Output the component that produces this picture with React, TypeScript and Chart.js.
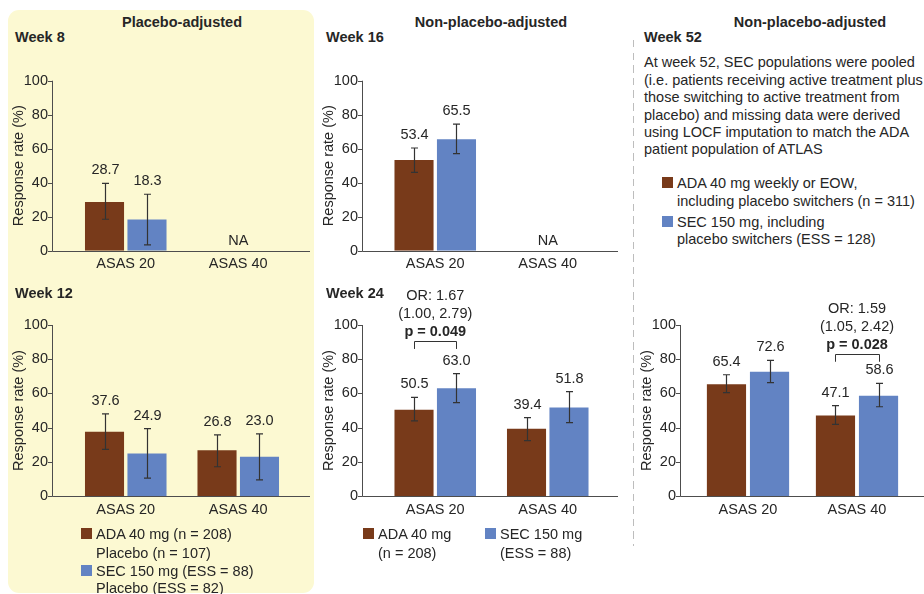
import React, { useEffect, useRef } from 'react';
import { Chart, registerables } from 'chart.js';

Chart.register(...registerables);

// ---------------- data ----------------
const categories = ['ASAS 20', 'ASAS 40'];
const yTicksMax = 100;
const yTickStep = 20;
const naLabel = 'NA';

const week8Ada = [28.7, null];
const week8Sec = [18.3, null];
const week8AdaLow = [18.5, null];
const week8AdaHigh = [39.6, null];
const week8SecLow = [3.4, null];
const week8SecHigh = [33.2, null];

const week12Ada = [37.6, 26.8];
const week12Sec = [24.9, 23.0];
const week12AdaLow = [27.3, 17.1];
const week12AdaHigh = [48.0, 35.7];
const week12SecLow = [10.4, 9.4];
const week12SecHigh = [39.4, 36.3];

const week16Ada = [53.4, null];
const week16Sec = [65.5, null];
const week16AdaLow = [46.1, null];
const week16AdaHigh = [60.4, null];
const week16SecLow = [57.1, null];
const week16SecHigh = [74.5, null];

const week24Ada = [50.5, 39.4];
const week24Sec = [63.0, 51.8];
const week24AdaLow = [43.9, 32.4];
const week24AdaHigh = [57.7, 45.8];
const week24SecLow = [54.6, 42.9];
const week24SecHigh = [71.6, 61.0];

const week52Ada = [65.4, 47.1];
const week52Sec = [72.6, 58.6];
const week52AdaLow = [60.4, 41.9];
const week52AdaHigh = [70.9, 52.8];
const week52SecLow = [66.3, 52.2];
const week52SecHigh = [79.3, 65.9];

const week24SigLines = ['OR: 1.67', '(1.00, 2.79)'];
const week24SigP = 'p = 0.049';
const week52SigLines = ['OR: 1.59', '(1.05, 2.42)'];
const week52SigP = 'p = 0.028';

const placeboLegend = ['ADA 40 mg (n = 208)', 'Placebo (n = 107)', 'SEC 150 mg (ESS = 88)', 'Placebo (ESS = 82)'];
const week24LegendAda = ['ADA 40 mg', '(n = 208)'];
const week24LegendSec = ['SEC 150 mg', '(ESS = 88)'];
const week52LegendAda = ['ADA 40 mg weekly or EOW,', 'including placebo switchers (n = 311)'];
const week52LegendSec = ['SEC 150 mg, including', 'placebo switchers (ESS = 128)'];
const week52Note = [
  'At week 52, SEC populations were pooled',
  '(i.e. patients receiving active treatment plus',
  'those switching to active treatment from',
  'placebo) and missing data were derived',
  'using LOCF imputation to match the ADA',
  'patient population of ATLAS',
];

// ---------------- style ----------------
const FONT = '"Liberation Sans", Arial, Helvetica, sans-serif';
const TEXT = '#262626';
const ADA_COLOR = '#783a1a';
const SEC_COLOR = '#6283c3';
const AXIS_COLOR = '#4d4d4d';

type Sig = { index: number; bracket: number; leg: number; lines: string[]; p: string };
type Cfg = {
  ada: (number | null)[];
  sec: (number | null)[];
  adaLow: (number | null)[];
  adaHigh: (number | null)[];
  secLow: (number | null)[];
  secHigh: (number | null)[];
  sig?: Sig;
  box: { left: number; top: number; width: number; height: number };
  area: { left: number; right: number; top: number; bottom: number };
  axisX: number;
  axisEnd: number;
  catPct: number;
  barPct: number;
};

function BarPanel({ cfg }: { cfg: Cfg }) {
  const ref = useRef<HTMLCanvasElement>(null);
  useEffect(() => {
    const { box, area } = cfg;
    const yWidth = area.left - box.left;
    const xHeight = box.top + box.height - area.bottom;
    const decor = {
      id: 'decor',
      afterDatasetsDraw(chart: any) {
        const ctx = chart.ctx;
        const y = chart.scales.y;
        const x = chart.scales.x;
        const ax = cfg.axisX - box.left;
        const ae = cfg.axisEnd - box.left;
        const y0 = Math.round(y.getPixelForValue(0)) + 0.5;
        const yTop = y.getPixelForValue(yTicksMax);
        ctx.save();
        // axes
        ctx.strokeStyle = AXIS_COLOR;
        ctx.lineWidth = 1;
        ctx.beginPath();
        ctx.moveTo(ax + 0.5, yTop);
        ctx.lineTo(ax + 0.5, y0);
        ctx.lineTo(ae, y0);
        y.ticks.forEach((t: any) => {
          const py = Math.round(y.getPixelForValue(t.value)) + 0.5;
          ctx.moveTo(ax - 4, py);
          ctx.lineTo(ax + 0.5, py);
        });
        ctx.stroke();
        // error bars + values
        ctx.font = `14.5px ${FONT}`;
        ctx.fillStyle = TEXT;
        ctx.textAlign = 'center';
        ctx.textBaseline = 'middle';
        const series = [
          [cfg.adaLow, cfg.adaHigh, cfg.ada],
          [cfg.secLow, cfg.secHigh, cfg.sec],
        ];
        series.forEach(([lo, hi, val], di) => {
          const meta = chart.getDatasetMeta(di);
          val.forEach((v, j) => {
            if (v == null || lo[j] == null || hi[j] == null) return;
            const bx = Math.round(meta.data[j].x) + 0.5;
            const pl = y.getPixelForValue(lo[j]);
            const ph = y.getPixelForValue(hi[j]);
            ctx.strokeStyle = '#333333';
            ctx.lineWidth = 1.2;
            ctx.beginPath();
            ctx.moveTo(bx, pl);
            ctx.lineTo(bx, ph);
            ctx.moveTo(bx - 3.5, pl);
            ctx.lineTo(bx + 3.5, pl);
            ctx.moveTo(bx - 3.5, ph);
            ctx.lineTo(bx + 3.5, ph);
            ctx.stroke();
            ctx.fillText(v.toFixed(1), bx, ph - 13);
          });
        });
        // NA
        categories.forEach((_c, j) => {
          if (cfg.ada[j] == null && cfg.sec[j] == null) {
            ctx.fillText(naLabel, x.getPixelForValue(j), y0 - 11);
          }
        });
        // significance bracket
        if (cfg.sig) {
          const s = cfg.sig;
          const x1 = Math.round(chart.getDatasetMeta(0).data[s.index].x) + 0.5;
          const x2 = Math.round(chart.getDatasetMeta(1).data[s.index].x) + 0.5;
          const by = Math.round(y.getPixelForValue(s.bracket)) + 0.5;
          const ly = y.getPixelForValue(s.leg);
          ctx.strokeStyle = '#333333';
          ctx.lineWidth = 1;
          ctx.beginPath();
          ctx.moveTo(x1, ly);
          ctx.lineTo(x1, by);
          ctx.lineTo(x2, by);
          ctx.lineTo(x2, ly);
          ctx.stroke();
          const cx = x.getPixelForValue(s.index);
          ctx.fillText(s.lines[0], cx, by - 46);
          ctx.fillText(s.lines[1], cx, by - 28);
          ctx.font = `bold 14.5px ${FONT}`;
          ctx.fillText(s.p, cx, by - 10);
        }
        ctx.restore();
      },
    };
    const chart = new Chart(ref.current as HTMLCanvasElement, {
      type: 'bar',
      data: {
        labels: categories,
        datasets: [
          {
            label: 'ADA',
            data: cfg.ada as any,
            backgroundColor: ADA_COLOR,
            categoryPercentage: cfg.catPct,
            barPercentage: cfg.barPct,
          },
          {
            label: 'SEC',
            data: cfg.sec as any,
            backgroundColor: SEC_COLOR,
            categoryPercentage: cfg.catPct,
            barPercentage: cfg.barPct,
          },
        ],
      },
      options: {
        responsive: false,
        animation: false,
        devicePixelRatio: 1,
        layout: {
          padding: {
            left: 0,
            right: box.left + box.width - area.right,
            top: area.top - box.top,
            bottom: 0,
          },
        },
        plugins: { legend: { display: false }, tooltip: { enabled: false } },
        scales: {
          x: {
            grid: { display: false, drawTicks: false },
            border: { display: false },
            ticks: { font: { family: FONT, size: 14.5 }, color: TEXT, padding: 5 },
            afterFit(s: any) {
              s.height = xHeight;
              s.paddingLeft = 0;
              s.paddingRight = 0;
            },
          },
          y: {
            min: 0,
            max: yTicksMax,
            grid: { display: false, drawTicks: false },
            border: { display: false },
            ticks: {
              stepSize: yTickStep,
              font: { family: FONT, size: 14.5 },
              color: TEXT,
              padding: area.left - cfg.axisX + 4,
            },
            title: {
              display: true,
              text: 'Response rate (%)',
              font: { family: FONT, size: 14.5 },
              color: TEXT,
              padding: { top: 10, bottom: 0 },
            },
            afterFit(s: any) {
              s.width = yWidth;
              s.paddingTop = 0;
              s.paddingBottom = 0;
            },
          },
        },
      } as any,
      plugins: [decor],
    });
    return () => chart.destroy();
  }, []);
  return (
    <canvas
      ref={ref}
      width={cfg.box.width}
      height={cfg.box.height}
      style={{ position: 'absolute', left: cfg.box.left, top: cfg.box.top }}
    />
  );
}

function Txt({
  x,
  y,
  children,
  bold,
  center,
}: {
  x: number;
  y: number;
  children: React.ReactNode;
  bold?: boolean;
  center?: boolean;
}) {
  return (
    <div
      style={{
        position: 'absolute',
        left: center ? x - 200 : x,
        width: center ? 400 : undefined,
        textAlign: center ? 'center' : 'left',
        top: y - 10,
        lineHeight: '20px',
        height: 20,
        fontSize: 14.5,
        fontWeight: bold ? 700 : 400,
        whiteSpace: 'nowrap',
        color: TEXT,
        fontFamily: FONT,
      }}
    >
      {children}
    </div>
  );
}

function Swatch({ x, y, color }: { x: number; y: number; color: string }) {
  return <div style={{ position: 'absolute', left: x, top: y, width: 11, height: 11, background: color }} />;
}

const topLeft = { left: 69.5, right: 294.5 };
const topMid = { left: 379, right: 604 };

const panels: Cfg[] = [
  {
    ada: week8Ada, sec: week8Sec, adaLow: week8AdaLow, adaHigh: week8AdaHigh, secLow: week8SecLow, secHigh: week8SecHigh,
    box: { left: 0, top: 60, width: 310, height: 220 },
    area: { ...topLeft, top: 80.7, bottom: 250.7 },
    axisX: 52, axisEnd: 310, catPct: 0.755, barPct: 0.92,
  },
  {
    ada: week12Ada, sec: week12Sec, adaLow: week12AdaLow, adaHigh: week12AdaHigh, secLow: week12SecLow, secHigh: week12SecHigh,
    box: { left: 0, top: 300, width: 310, height: 225 },
    area: { ...topLeft, top: 325, bottom: 496 },
    axisX: 52, axisEnd: 310, catPct: 0.755, barPct: 0.92,
  },
  {
    ada: week16Ada, sec: week16Sec, adaLow: week16AdaLow, adaHigh: week16AdaHigh, secLow: week16SecLow, secHigh: week16SecHigh,
    box: { left: 310, top: 60, width: 310, height: 220 },
    area: { ...topMid, top: 80.7, bottom: 250.7 },
    axisX: 362, axisEnd: 618, catPct: 0.755, barPct: 0.92,
  },
  {
    ada: week24Ada, sec: week24Sec, adaLow: week24AdaLow, adaHigh: week24AdaHigh, secLow: week24SecLow, secHigh: week24SecHigh,
    sig: { index: 0, bracket: 90.6, leg: 86, lines: week24SigLines, p: week24SigP },
    box: { left: 310, top: 282, width: 310, height: 243 },
    area: { ...topMid, top: 325, bottom: 496 },
    axisX: 362, axisEnd: 618, catPct: 0.755, barPct: 0.92,
  },
  {
    ada: week52Ada, sec: week52Sec, adaLow: week52AdaLow, adaHigh: week52AdaHigh, secLow: week52SecLow, secHigh: week52SecHigh,
    sig: { index: 1, bracket: 83, leg: 78.5, lines: week52SigLines, p: week52SigP },
    box: { left: 628, top: 282, width: 296, height: 243 },
    area: { left: 693.5, right: 911.5, top: 325, bottom: 496 },
    axisX: 680, axisEnd: 924, catPct: 0.79, barPct: 0.91,
  },
];

export default function App() {
  return (
    <div
      style={{
        position: 'fixed',
        left: 0,
        top: 0,
        width: 924,
        height: 594,
        overflow: 'hidden',
        background: '#ffffff',
        fontFamily: FONT,
      }}
    >
      <div
        style={{
          position: 'absolute',
          left: 8,
          top: 10,
          width: 306,
          height: 583,
          borderRadius: 11,
          background: '#fcf9d2',
        }}
      />
      <div
        style={{
          position: 'absolute',
          left: 632.5,
          top: 40,
          width: 1.3,
          height: 506,
          background: 'repeating-linear-gradient(to bottom, #bdbdbd 0px, #bdbdbd 7.5px, transparent 7.5px, transparent 12.6px)',
        }}
      />
      {panels.map((p, i) => (
        <BarPanel key={i} cfg={p} />
      ))}

      <Txt x={182} y={22} bold center>Placebo-adjusted</Txt>
      <Txt x={491} y={22} bold center>Non-placebo-adjusted</Txt>
      <Txt x={810} y={22} bold center>Non-placebo-adjusted</Txt>
      <Txt x={15} y={37} bold>Week 8</Txt>
      <Txt x={326} y={37} bold>Week 16</Txt>
      <Txt x={644} y={37} bold>Week 52</Txt>
      <Txt x={15} y={293} bold>Week 12</Txt>
      <Txt x={326} y={293} bold>Week 24</Txt>

      {week52Note.map((line, i) => (
        <Txt key={i} x={644} y={62.3 + i * 17.4}>{line}</Txt>
      ))}

      <Swatch x={662} y={177} color={ADA_COLOR} />
      <Txt x={677} y={182.7}>{week52LegendAda[0]}</Txt>
      <Txt x={677} y={200.5}>{week52LegendAda[1]}</Txt>
      <Swatch x={662} y={216} color={SEC_COLOR} />
      <Txt x={677} y={221.5}>{week52LegendSec[0]}</Txt>
      <Txt x={677} y={239}>{week52LegendSec[1]}</Txt>

      <Swatch x={81} y={528} color={ADA_COLOR} />
      <Txt x={96} y={534}>{placeboLegend[0]}</Txt>
      <Txt x={96} y={552.5}>{placeboLegend[1]}</Txt>
      <Swatch x={81} y={565} color={SEC_COLOR} />
      <Txt x={96} y={570.5}>{placeboLegend[2]}</Txt>
      <Txt x={96} y={588}>{placeboLegend[3]}</Txt>

      <Swatch x={363} y={528} color={ADA_COLOR} />
      <Txt x={378} y={534}>{week24LegendAda[0]}</Txt>
      <Txt x={378} y={552.5}>{week24LegendAda[1]}</Txt>
      <Swatch x={485} y={528} color={SEC_COLOR} />
      <Txt x={500} y={534}>{week24LegendSec[0]}</Txt>
      <Txt x={500} y={552.5}>{week24LegendSec[1]}</Txt>
    </div>
  );
}
